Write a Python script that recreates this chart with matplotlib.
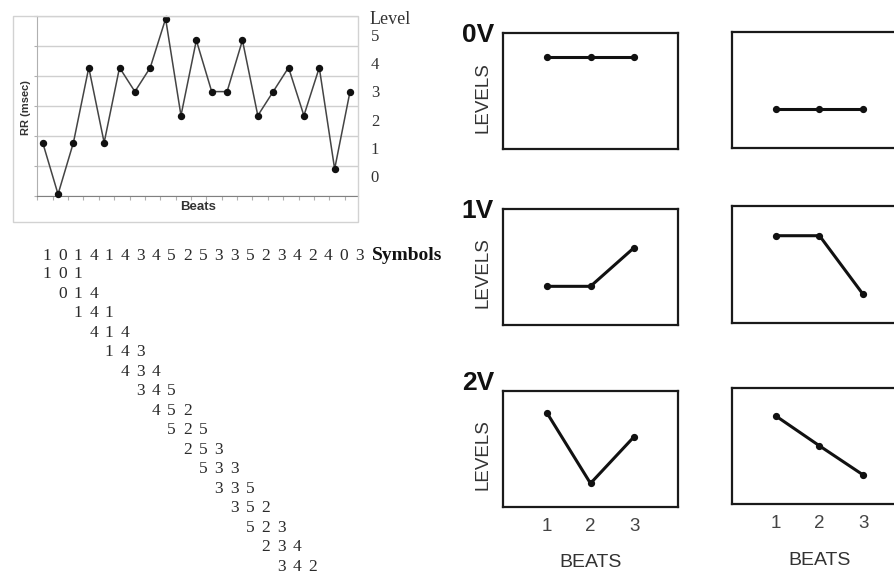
import numpy as np
import matplotlib
matplotlib.use("Agg")
import matplotlib.pyplot as plt
from matplotlib.patches import Rectangle

# RR series (arbitrary grid units) and its symbolic level coding
rr_values = [1.78, 0.06, 1.78, 4.28, 1.78, 4.28, 3.48, 4.28, 5.91, 2.68, 5.19,
             3.48, 3.48, 5.19, 2.68, 3.48, 4.28, 2.68, 4.28, 0.90, 3.48]
symbols = [1, 0, 1, 4, 1, 4, 3, 4, 5, 2, 5, 3, 3, 5, 2, 3, 4, 2, 4, 0, 3]
level_labels = ["0", "1", "2", "3", "4", "5"]
n_words_shown = 16

# Three-beat pattern families with 0, 1 or 2 variations
family_names = ["0V", "1V", "2V"]
beats = [1, 2, 3]
pattern_left = [[4.76, 4.76, 4.76], [2.0, 2.0, 4.0], [4.87, 1.21, 3.63]]
pattern_right = [[2.0, 2.0, 2.0], [4.48, 4.48, 1.48], [4.54, 3.0, 1.5]]

SERIF = "Liberation Serif"
SANS = "Liberation Sans"

W, H = 895, 575
fig = plt.figure(figsize=(W / 100, H / 100), dpi=100)
fig.patch.set_facecolor("white")


def rect(x0, y0, x1, y1):
    return [x0 / W, 1 - y1 / H, (x1 - x0) / W, (y1 - y0) / H]


def fx(x):
    return x / W


def fy(y):
    return 1 - y / H


# ---- RR tachogram -------------------------------------------------------
fig.patches.append(Rectangle((fx(13), fy(222)), (358 - 13) / W, (222 - 16) / H,
                             transform=fig.transFigure, fill=False,
                             ec="#d2d2d2", lw=1.0))

ax = fig.add_axes(rect(37, 16, 358, 196))
x = np.arange(len(rr_values))
ax.plot(x, rr_values, color="#444444", lw=1.1, marker="o", ms=4.3,
        mfc="#111111", mec="#111111", zorder=3, clip_on=False)
ax.set_xlim(-0.37, 20.52)
ax.set_ylim(0, 6)
ax.set_yticks(range(7))
ax.set_yticklabels([])
ax.yaxis.grid(True, color="#cfcfcf", lw=1.0)
ax.tick_params(axis="y", length=2, color="#b0b0b0")
ax.set_xticks(np.arange(len(rr_values)) - 0.35)
ax.set_xticklabels([])
ax.tick_params(axis="x", length=3, color="#b0b0b0", direction="out")
for s in ["top", "right"]:
    ax.spines[s].set_visible(False)
ax.spines["left"].set_color("#b0b0b0")
ax.spines["bottom"].set_color("#808080")
ax.set_facecolor("white")

fig.text(fx(26), fy(107.5), "RR (msec)", rotation=90, ha="center", va="center",
         fontsize=8, fontweight="bold", color="#333333", family=SANS)
fig.text(fx(198), fy(206.5), "Beats", ha="center", va="center",
         fontsize=9.5, fontweight="bold", color="#333333", family=SANS)

# level scale to the right of the plot
ytr = ax.get_yaxis_transform()
for k, lab in enumerate(level_labels):
    ax.text(1.04, 0.6 + 0.94 * k, lab, transform=ytr, ha="left", va="center",
            fontsize=12, family=SERIF, color="#333333", clip_on=False)
ax.text(1.036, 5.87, "Level", transform=ytr, ha="left", va="center",
        fontsize=13, family=SERIF, color="#333333", clip_on=False)

# ---- symbol string and three-beat words ---------------------------------
col0, col_step = 46.7, 15.63
row0_base, word_base, word_step = 260, 278.3, 19.5
for j, s in enumerate(symbols):
    fig.text(fx(col0 + col_step * j), fy(row0_base), str(s), ha="center",
             va="baseline", fontsize=12.5, family=SERIF, color="#2a2a2a")
fig.text(fx(372), fy(row0_base), "Symbols", ha="left", va="baseline",
         fontsize=14, fontweight="bold", family=SERIF, color="#111111")

for i in range(n_words_shown):
    for k in range(3):
        fig.text(fx(col0 + col_step * (i + k)), fy(word_base + word_step * i),
                 str(symbols[i + k]), ha="center", va="baseline",
                 fontsize=12.5, family=SERIF, color="#2a2a2a")

# ---- pattern family panels ---------------------------------------------
left_rows = [(33.3, 149.3), (209, 325), (391, 506.7)]
right_rows = [(32.3, 147.7), (206, 323.3), (387.7, 504)]
name_base = [41.7, 218.3, 390]
panel_w = 174.4

for r in range(3):
    for col, (x0, rows, data) in enumerate([(503.3, left_rows, pattern_left),
                                            (732.3, right_rows, pattern_right)]):
        y0, y1 = rows[r]
        a = fig.add_axes(rect(x0, y0, x0 + panel_w, y1))
        a.plot(beats, data[r], color="#111111", lw=2.2, marker="o", ms=4.2,
               solid_capstyle="round", solid_joinstyle="round")
        a.set_xlim(0, 4)
        a.set_ylim(0, 6)
        a.set_yticks([])
        for sp in a.spines.values():
            sp.set_linewidth(1.6)
            sp.set_color("#1a1a1a")
        if r == 2:
            a.set_xticks(beats)
            a.tick_params(axis="x", length=0, pad=8, labelsize=13.5,
                          labelcolor="#444444")
            for t in a.get_xticklabels():
                t.set_family(SANS)
            a.set_xlabel("BEATS", fontsize=14, color="#333333", family=SANS,
                         labelpad=14)
        else:
            a.set_xticks([])
        if col == 0:
            fig.text(fx(483.3), fy((y0 + y1) / 2 + 6), "LEVELS", rotation=90,
                     ha="center", va="center", fontsize=13.5, color="#333333",
                     family=SANS)
    fig.text(fx(461.7), fy(name_base[r]), family_names[r], ha="left",
             va="baseline", fontsize=19, fontweight="bold", color="#111111",
             family=SANS)

fig.savefig("out.png", dpi=100, facecolor="white")
